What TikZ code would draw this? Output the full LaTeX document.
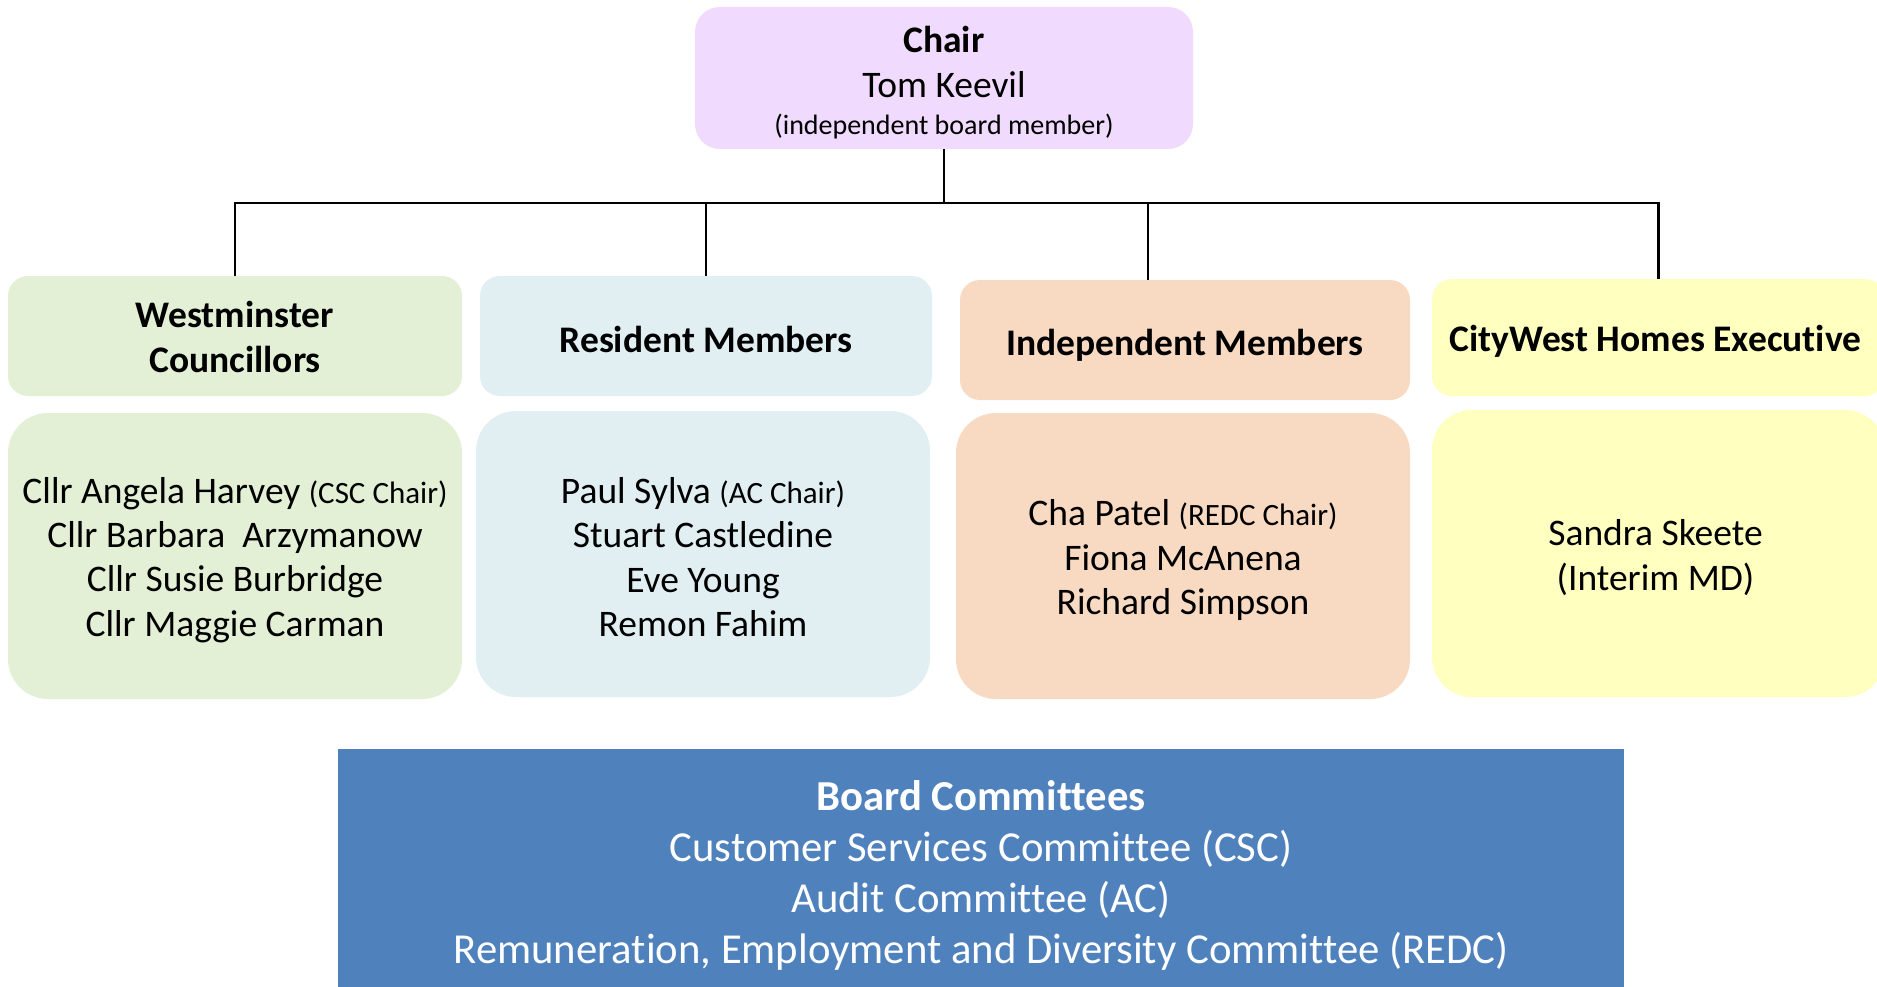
\documentclass[tikz,border=0pt]{standalone}
\usepackage{fontspec}
\setmainfont{Carlito}[Ligatures=CommonOff]
\definecolor{chairfill}{HTML}{F0DAFD}
\definecolor{councilfill}{HTML}{E3F0D5}
\definecolor{residentfill}{HTML}{E1EFF3}
\definecolor{indepfill}{HTML}{F8D9C1}
\definecolor{execfill}{HTML}{FFFFC0}
\definecolor{boardfill}{HTML}{4F81BD}
\tikzset{
  box/.style={rectangle, inner sep=0pt},
  txt/.style={inner sep=0pt, align=center, text=black},
  headbox/.style={box, rounded corners=20pt, minimum width=452pt, minimum height=120pt},
  namebox/.style={box, rounded corners=40pt, minimum width=454pt, minimum height=286pt},
  headtxt/.style={txt, font={\fontsize{37.5}{45.5}\selectfont\bfseries}},
  nametxt/.style={txt, font={\fontsize{37.5}{44.3}\selectfont}},
  link/.style={draw=black, line width=2.6pt},
}
\newcommand{\smallrole}[1]{{\fontsize{31}{36}\selectfont #1}}
\begin{document}
\begin{tikzpicture}[x=1pt, y=-1pt]
\clip (0,0) rectangle (1877,987);
\fill[white] (0,0) rectangle (1877,987);

% chair
\node[box, fill=chairfill, rounded corners=25pt, minimum width=498pt, minimum height=142pt] (chair) at (944,78) {};
\node[txt, font={\fontsize{37.5}{45}\selectfont}] (chairText) at ([yshift=-5pt]chair.center)
  {\textbf{Chair}\\Tom Keevil\\[-8pt]{\fontsize{28}{34}\selectfont (independent board member)}};

% group headers
\node[headbox, fill=councilfill, minimum width=454pt] (wcHead) at (235,336) {};
\node[headbox, fill=residentfill] (rmHead) at (706,336) {};
\node[headbox, fill=indepfill, minimum width=450pt] (imHead) at (1185,340) {};
\node[headbox, fill=execfill, minimum width=453pt, minimum height=117pt] (cwHead) at (1658.5,337.5) {};
\node[headtxt] (wcHeadText) at ([yshift=-1pt]wcHead.center) {Westminster\\Councillors};
\node[headtxt] (rmHeadText) at ([yshift=-3pt]rmHead.center) {Resident Members};
\node[headtxt] (imHeadText) at ([yshift=-5pt]imHead.center) {Independent Members};
\node[headtxt] (cwHeadText) at ([yshift=-4pt,xshift=-3pt]cwHead.center) {CityWest Homes Executive};

% members
\node[namebox, fill=councilfill] (wcNames) at (235,556) {};
\node[namebox, fill=residentfill] (rmNames) at (703,554) {};
\node[namebox, fill=indepfill] (imNames) at (1183,556) {};
\node[namebox, fill=execfill, minimum width=453pt, minimum height=287pt] (cwNames) at (1658.5,553.5) {};
\node[nametxt] (wcNamesText) at ([yshift=-4pt]wcNames.center)
  {Cllr Angela Harvey \smallrole{(CSC Chair)}\\Cllr Barbara~~Arzymanow\\Cllr Susie Burbridge\\Cllr Maggie Carman};
\node[nametxt] (rmNamesText) at ([yshift=-3pt]rmNames.center)
  {Paul Sylva \smallrole{(AC Chair)}\\Stuart Castledine\\Eve Young\\Remon Fahim};
\node[nametxt] (imNamesText) at ([yshift=-4pt]imNames.center)
  {Cha Patel \smallrole{(REDC Chair)}\\Fiona McAnena\\Richard Simpson};
\node[nametxt] (cwNamesText) at ([yshift=-4pt,xshift=-3pt]cwNames.center)
  {Sandra Skeete\\ (Interim MD)};

% committees
\node[box, fill=boardfill, minimum width=1286pt, minimum height=247pt] (board) at (981,872.5) {};
\node[txt, text=white, font={\fontsize{42.7}{51}\selectfont}] (boardText) at ([yshift=-3pt]board.center)
  {\textbf{Board Committees}\\Customer Services Committee (CSC)\\Audit Committee (AC)\\Remuneration, Employment and Diversity Committee (REDC)};

% connectors
\coordinate (bus) at (944,203);
\draw[link] (chair.south) -- (bus);
\draw[link] (wcHead.north) |- (bus);
\draw[link] (cwHead.north) |- (bus);
\draw[link] (rmHead.north) -- (rmHead.north |- bus);
\draw[link] ([xshift=-37pt]imHead.north) -- ([xshift=-37pt]imHead.north |- bus);
\end{tikzpicture}
\end{document}
